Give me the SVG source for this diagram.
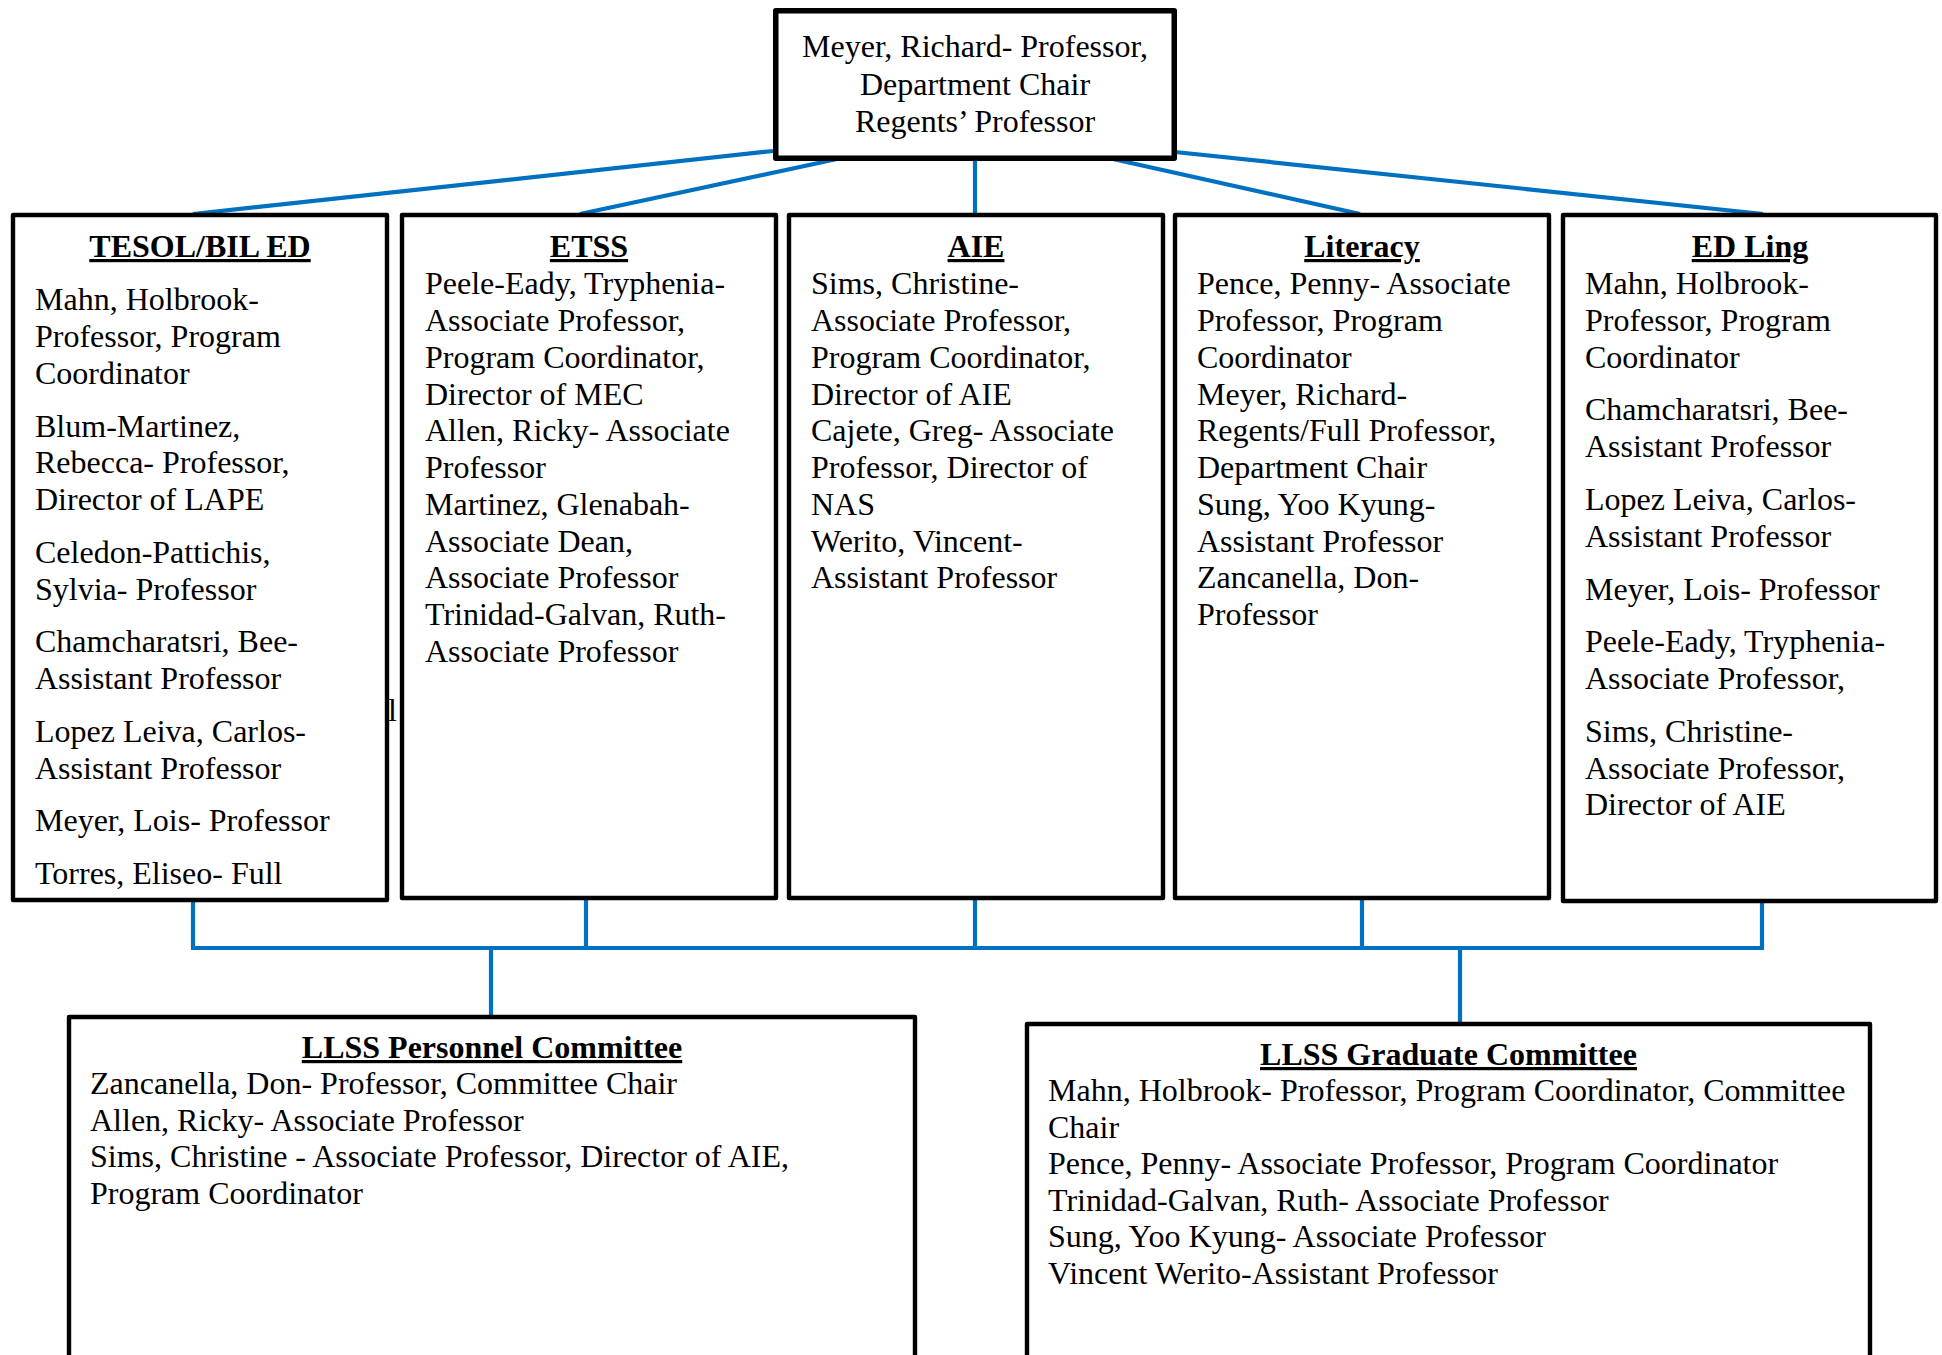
<svg xmlns="http://www.w3.org/2000/svg" width="1942" height="1355" viewBox="0 0 1942 1355">
  <style>
    .box { fill: #ffffff; stroke: #000000; stroke-width: 4.4; stroke-linejoin: round; }
    .chair { stroke-width: 5.5; }
    .link { fill: none; stroke: #0070C0; stroke-width: 4.2; stroke-linecap: butt; }
    text { font-family: "Liberation Serif", "Times New Roman", serif; font-size: 32px; fill: #000000; }
    .ttl { font-weight: bold; text-decoration: underline; text-anchor: middle; }
    .mid { text-anchor: middle; }
  </style>
  <rect width="1942" height="1355" fill="#ffffff"/>

  <!-- connectors -->
  <g id="connectors">
    <line class="link" x1="773" y1="151" x2="193" y2="214"/>
    <line class="link" x1="837" y1="159" x2="580" y2="214"/>
    <line class="link" x1="975" y1="159" x2="975" y2="214"/>
    <line class="link" x1="1113" y1="159" x2="1360" y2="214"/>
    <line class="link" x1="1175" y1="152" x2="1763" y2="214"/>
    <line class="link" x1="193" y1="900" x2="193" y2="948"/>
    <line class="link" x1="586" y1="898" x2="586" y2="948"/>
    <line class="link" x1="975" y1="898" x2="975" y2="948"/>
    <line class="link" x1="1362" y1="898" x2="1362" y2="948"/>
    <line class="link" x1="1762" y1="900" x2="1762" y2="948"/>
    <line class="link" x1="191" y1="948" x2="1764" y2="948"/>
    <line class="link" x1="491" y1="948" x2="491" y2="1015"/>
    <line class="link" x1="1460" y1="948" x2="1460" y2="1022"/>
  </g>

  <!-- department chair -->
  <g id="chair">
    <rect class="box chair" x="775.75" y="10.75" width="398.5" height="147.5"/>
    <text class="mid" x="975" y="57">Meyer, Richard- Professor,</text>
    <text class="mid" x="975" y="94.5">Department Chair</text>
    <text class="mid" x="975" y="132">Regents’ Professor</text>
  </g>

  <!-- TESOL / bilingual education -->
  <g id="tesol">
    <rect class="box" x="13" y="215" width="374" height="685"/>
    <text class="ttl" x="200" y="257">TESOL/BIL ED</text>
    <text x="35">
      <tspan x="35" y="310">Mahn, Holbrook-</tspan>
      <tspan x="35" y="347">Professor, Program</tspan>
      <tspan x="35" y="384">Coordinator</tspan>
      <tspan x="35" y="436.5">Blum-Martinez,</tspan>
      <tspan x="35" y="473">Rebecca- Professor,</tspan>
      <tspan x="35" y="510">Director of LAPE</tspan>
      <tspan x="35" y="563">Celedon-Pattichis,</tspan>
      <tspan x="35" y="599.5">Sylvia- Professor</tspan>
      <tspan x="35" y="652">Chamcharatsri, Bee-</tspan>
      <tspan x="35" y="689">Assistant Professor</tspan>
      <tspan x="35" y="742">Lopez Leiva, Carlos-</tspan>
      <tspan x="35" y="778.5">Assistant Professor</tspan>
      <tspan x="35" y="831">Meyer, Lois- Professor</tspan>
      <tspan x="35" y="884">Torres, Eliseo- Full</tspan>
    </text>
    <text x="388" y="721">l</text>
  </g>

  <!-- ETSS -->
  <g id="etss">
    <rect class="box" x="402" y="215" width="374" height="683"/>
    <text class="ttl" x="589" y="257">ETSS</text>
    <text x="425">
      <tspan x="425" y="294">Peele-Eady, Tryphenia-</tspan>
      <tspan x="425" y="331">Associate Professor,</tspan>
      <tspan x="425" y="367.5">Program Coordinator,</tspan>
      <tspan x="425" y="404.5">Director of MEC</tspan>
      <tspan x="425" y="441">Allen, Ricky- Associate</tspan>
      <tspan x="425" y="478">Professor</tspan>
      <tspan x="425" y="514.5">Martinez, Glenabah-</tspan>
      <tspan x="425" y="551.5">Associate Dean,</tspan>
      <tspan x="425" y="588">Associate Professor</tspan>
      <tspan x="425" y="625">Trinidad-Galvan, Ruth-</tspan>
      <tspan x="425" y="661.5">Associate Professor</tspan>
    </text>
  </g>

  <!-- AIE -->
  <g id="aie">
    <rect class="box" x="789" y="215" width="374" height="683"/>
    <text class="ttl" x="976" y="257">AIE</text>
    <text x="811">
      <tspan x="811" y="294">Sims, Christine-</tspan>
      <tspan x="811" y="331">Associate Professor,</tspan>
      <tspan x="811" y="367.5">Program Coordinator,</tspan>
      <tspan x="811" y="404.5">Director of AIE</tspan>
      <tspan x="811" y="441">Cajete, Greg- Associate</tspan>
      <tspan x="811" y="478">Professor, Director of</tspan>
      <tspan x="811" y="514.5">NAS</tspan>
      <tspan x="811" y="551.5">Werito, Vincent-</tspan>
      <tspan x="811" y="588">Assistant Professor</tspan>
    </text>
  </g>

  <!-- Literacy -->
  <g id="literacy">
    <rect class="box" x="1175" y="215" width="374" height="683"/>
    <text class="ttl" x="1362" y="257">Literacy</text>
    <text x="1197">
      <tspan x="1197" y="294">Pence, Penny- Associate</tspan>
      <tspan x="1197" y="331">Professor, Program</tspan>
      <tspan x="1197" y="367.5">Coordinator</tspan>
      <tspan x="1197" y="404.5">Meyer, Richard-</tspan>
      <tspan x="1197" y="441">Regents/Full Professor,</tspan>
      <tspan x="1197" y="478">Department Chair</tspan>
      <tspan x="1197" y="514.5">Sung, Yoo Kyung-</tspan>
      <tspan x="1197" y="551.5">Assistant Professor</tspan>
      <tspan x="1197" y="588">Zancanella, Don-</tspan>
      <tspan x="1197" y="625">Professor</tspan>
    </text>
  </g>

  <!-- Educational linguistics -->
  <g id="edling">
    <rect class="box" x="1563" y="215" width="373" height="686"/>
    <text class="ttl" x="1750" y="257">ED Ling</text>
    <text x="1585">
      <tspan x="1585" y="294">Mahn, Holbrook-</tspan>
      <tspan x="1585" y="331">Professor, Program</tspan>
      <tspan x="1585" y="367.5">Coordinator</tspan>
      <tspan x="1585" y="420">Chamcharatsri, Bee-</tspan>
      <tspan x="1585" y="457">Assistant Professor</tspan>
      <tspan x="1585" y="510">Lopez Leiva, Carlos-</tspan>
      <tspan x="1585" y="547">Assistant Professor</tspan>
      <tspan x="1585" y="599.5">Meyer, Lois- Professor</tspan>
      <tspan x="1585" y="652">Peele-Eady, Tryphenia-</tspan>
      <tspan x="1585" y="689">Associate Professor,</tspan>
      <tspan x="1585" y="742">Sims, Christine-</tspan>
      <tspan x="1585" y="778.5">Associate Professor,</tspan>
      <tspan x="1585" y="815">Director of AIE</tspan>
    </text>
  </g>

  <!-- personnel committee -->
  <g id="personnel">
    <rect class="box" x="69" y="1017" width="846" height="420"/>
    <text class="ttl" x="492" y="1058">LLSS Personnel Committee</text>
    <text x="90">
      <tspan x="90" y="1094">Zancanella, Don- Professor, Committee Chair</tspan>
      <tspan x="90" y="1130.5">Allen, Ricky- Associate Professor</tspan>
      <tspan x="90" y="1167">Sims, Christine - Associate Professor, Director of AIE,</tspan>
      <tspan x="90" y="1204">Program Coordinator</tspan>
    </text>
  </g>

  <!-- graduate committee -->
  <g id="graduate">
    <rect class="box" x="1027" y="1024" width="843" height="420"/>
    <text class="ttl" x="1448.5" y="1065">LLSS Graduate Committee</text>
    <text x="1048">
      <tspan x="1048" y="1101">Mahn, Holbrook- Professor, Program Coordinator, Committee</tspan>
      <tspan x="1048" y="1137.5">Chair</tspan>
      <tspan x="1048" y="1174">Pence, Penny- Associate Professor, Program Coordinator</tspan>
      <tspan x="1048" y="1210.5">Trinidad-Galvan, Ruth- Associate Professor</tspan>
      <tspan x="1048" y="1247">Sung, Yoo Kyung- Associate Professor</tspan>
      <tspan x="1048" y="1283.5">Vincent Werito-Assistant Professor</tspan>
    </text>
  </g>
</svg>
